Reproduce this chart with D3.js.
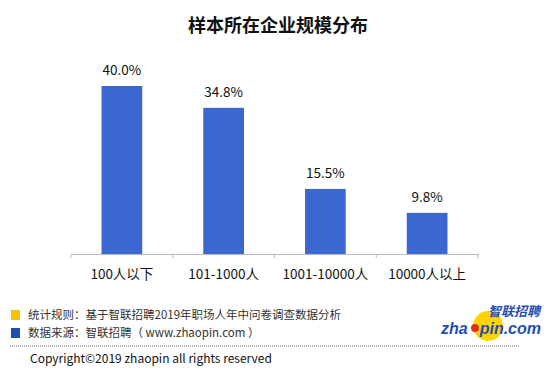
<!DOCTYPE html>
<html><head><meta charset="utf-8">
<script src="https://cdn.jsdelivr.net/npm/d3@7/dist/d3.min.js"></script>
<style>body{margin:0;background:#fff}svg{display:block}</style>
</head><body><svg id="c" width="554" height="373"></svg>
<script>
const categories = ["100人以下", "101-1000人", "1001-10000人", "10000人以上"];
const values = [40.0, 34.8, 15.5, 9.8];
const valueLabels = ["40.0%", "34.8%", "15.5%", "9.8%"];
const title = "样本所在企业规模分布";
const notes = ["统计规则：基于智联招聘2019年职场人年中问卷调查数据分析", "数据来源：智联招聘（ www.zhaopin.com ）"];
const noteColors = ["#f5c400", "#1f4eb0"];
const copyright = "Copyright©2019 zhaopin all rights reserved";

const svg = d3.select("#c");
const font = "'Noto Sans CJK SC', 'Microsoft YaHei', sans-serif";
const baseY = 254;
const x = d3.scaleBand().domain(categories).range([71, 478]).paddingInner(0.6).paddingOuter(0.3);
const y = d3.scaleLinear().domain([0, 40]).range([baseY, 86]);

svg.append("text").attr("x", 278).attr("y", 32).attr("text-anchor", "middle")
  .attr("font-family", font).attr("font-weight", "bold").attr("font-size", 18).attr("fill", "#111").text(title);

svg.selectAll("rect.bar").data(values).join("rect").attr("class", "bar")
  .attr("x", (d, i) => x(categories[i])).attr("width", x.bandwidth())
  .attr("y", d => y(d)).attr("height", d => baseY - y(d)).attr("fill", "#3b68d0");

svg.selectAll("text.val").data(values).join("text").attr("class", "val")
  .attr("x", (d, i) => x(categories[i]) + x.bandwidth() / 2).attr("y", d => y(d) - 11)
  .attr("text-anchor", "middle").attr("font-family", font).attr("font-size", 13.5).attr("fill", "#111")
  .text((d, i) => valueLabels[i]);

const axis = d3.axisBottom(x).tickSize(0).tickPadding(15).tickSizeOuter(0);
const ag = svg.append("g").attr("transform", `translate(0,${baseY})`).call(axis);
ag.select(".domain").attr("stroke", "#bbb");
ag.selectAll(".tick text").attr("font-family", font).attr("font-size", 13.5).attr("fill", "#111");
const bounds = d3.range(categories.length + 1).map(i => 71 + i * (407 / categories.length));
ag.selectAll("line.sep").data(bounds).join("line").attr("class", "sep")
  .attr("x1", d => d).attr("x2", d => d).attr("y1", 0).attr("y2", 4).attr("stroke", "#bbb");

notes.forEach((t, i) => {
  const cy = 315 + i * 18;
  svg.append("rect").attr("x", 11).attr("y", cy - 5).attr("width", 9).attr("height", 10).attr("fill", noteColors[i]);
  svg.append("text").attr("x", 28).attr("y", cy + 4).attr("font-family", font).attr("font-size", 11.5)
    .attr("fill", "#333").text(t);
});
svg.append("line").attr("x1", 10).attr("x2", 520).attr("y1", 346).attr("y2", 346)
  .attr("stroke", "#666").attr("stroke-dasharray", "1,1");
svg.append("text").attr("x", 30).attr("y", 363).attr("font-family", font).attr("font-size", 12)
  .attr("fill", "#111").text(copyright);

// logo
const lf = "'Liberation Sans', Arial, sans-serif";
const lg = svg.append("g");
lg.append("circle").attr("cx", 488).attr("cy", 326).attr("r", 15).attr("fill", "#ffd400");
lg.append("text").attr("x", 540).attr("y", 316).attr("text-anchor", "end").attr("font-family", font)
  .attr("font-weight", "bold").attr("font-style", "italic").attr("font-size", 13).attr("fill", "#1f4fb5").text("智联招聘");
lg.append("text").attr("x", 441).attr("y", 334).attr("font-family", lf)
  .attr("font-weight", "bold").attr("font-style", "italic").attr("font-size", 16).attr("fill", "#1f4fb5").text("zha");
lg.append("text").attr("x", 541).attr("y", 334).attr("text-anchor", "end").attr("font-family", lf)
  .attr("font-weight", "bold").attr("font-style", "italic").attr("font-size", 16).attr("fill", "#1f4fb5").text("pin.com");
lg.append("circle").attr("cx", 475).attr("cy", 328).attr("r", 4).attr("fill", "#d8301c");
</script></body></html>
